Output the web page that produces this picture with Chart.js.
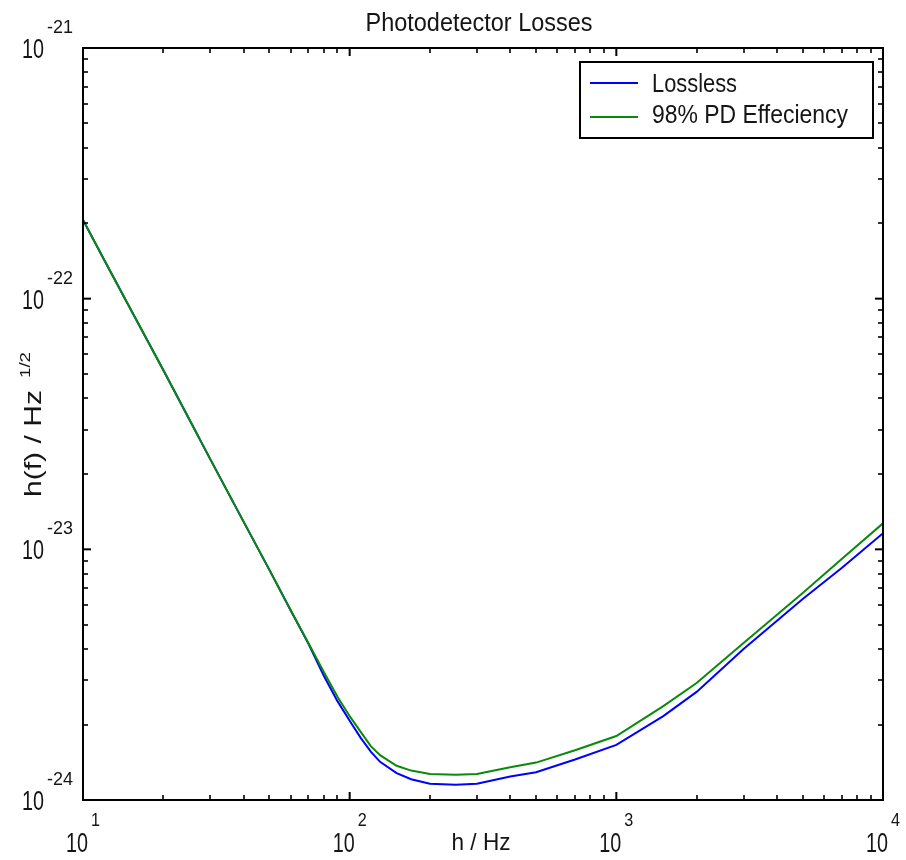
<!DOCTYPE html>
<html>
<head>
<meta charset="utf-8">
<script src="https://cdn.jsdelivr.net/npm/chart.js@4.4.1/dist/chart.umd.min.js"></script>
<style>
  html, body { margin: 0; padding: 0; background: #ffffff; }
  #wrap { width: 906px; height: 860px; position: relative; }
</style>
</head>
<body>
<div id="wrap"><canvas id="c"></canvas></div>
<script>
// ---- Data ----
const chartTitle = "Photodetector Losses";
const xAxisTitle = "h / Hz";
const yAxisTitleMain = "h(f) / Hz";
const yAxisTitleExp = "1/2";
const seriesNames = ["Lossless", "98% PD Effeciency"];

const freqHz = [10, 12, 15, 20, 25, 30, 40, 50, 60, 70, 80, 90, 100, 110, 120, 130, 150, 170, 200, 250, 300, 400, 500, 700, 1000, 1500, 2000, 3000, 5000, 7000, 10000];

const lossless = [2.06e-22, 1.43e-22, 9.18e-23, 5.19e-23, 3.31e-23, 2.29e-23, 1.29e-23, 8.28e-24, 5.73e-24, 4.21e-24, 3.13e-24, 2.48e-24, 2.07e-24, 1.77e-24, 1.56e-24, 1.42e-24, 1.28e-24, 1.21e-24, 1.16e-24, 1.15e-24, 1.16e-24, 1.24e-24, 1.29e-24, 1.45e-24, 1.66e-24, 2.16e-24, 2.70e-24, 4.00e-24, 6.34e-24, 8.43e-24, 1.16e-23];

const pd98 = [2.06e-22, 1.43e-22, 9.18e-23, 5.19e-23, 3.31e-23, 2.29e-23, 1.29e-23, 8.28e-24, 5.73e-24, 4.23e-24, 3.24e-24, 2.58e-24, 2.16e-24, 1.87e-24, 1.64e-24, 1.51e-24, 1.37e-24, 1.31e-24, 1.27e-24, 1.26e-24, 1.27e-24, 1.35e-24, 1.41e-24, 1.58e-24, 1.80e-24, 2.37e-24, 2.93e-24, 4.23e-24, 6.70e-24, 9.16e-24, 1.27e-23];

const xTickValues = [10, 100, 1000, 10000];
const xTickExponents = ["1", "2", "3", "4"];
const yTickValues = [1e-24, 1e-23, 1e-22, 1e-21];
const yTickExponents = ["-24", "-23", "-22", "-21"];
const minorMultipliers = [2, 3, 4, 5, 6, 7, 8, 9];

const colors = { lossless: "#0000ff", pd98: "#0a8a0a", text: "#151515", frame: "#000000" };
const FONT = '"Liberation Sans", Arial, Helvetica, sans-serif';

function fitText(ctx, s, x, y, size, width, align) {
  ctx.font = size + "px " + FONT;
  const m = ctx.measureText(s).width;
  const sx = width ? width / m : 1;
  ctx.save();
  ctx.translate(x, y);
  ctx.scale(sx, 1);
  ctx.textAlign = align || "left";
  ctx.textBaseline = "alphabetic";
  ctx.fillText(s, 0, 0);
  ctx.restore();
  return (width || m);
}

function seg(ctx, x1, y1, x2, y2) {
  ctx.beginPath(); ctx.moveTo(x1, y1); ctx.lineTo(x2, y2); ctx.stroke();
}

const decorPlugin = {
  id: "decor",
  afterDatasetsDraw(chart) {
    const ctx = chart.ctx;
    const a = chart.chartArea;
    const xs = chart.scales.x, ys = chart.scales.y;
    ctx.save();
    ctx.strokeStyle = colors.frame;
    ctx.fillStyle = colors.text;

    // frame
    ctx.lineWidth = 2;
    ctx.strokeRect(a.left, a.top, a.right - a.left, a.bottom - a.top);

    // x ticks (bottom + top, inward)
    xTickValues.forEach((v, i) => {
      const px = xs.getPixelForValue(v);
      ctx.lineWidth = 2;
      seg(ctx, px, a.bottom, px, a.bottom - 8);
      seg(ctx, px, a.top, px, a.top + 8);
      if (i < xTickValues.length - 1) {
        minorMultipliers.forEach(m => {
          const p = Math.round(xs.getPixelForValue(v * m));
          ctx.lineWidth = 1.6;
          seg(ctx, p, a.bottom, p, a.bottom - 5);
          seg(ctx, p, a.top, p, a.top + 5);
        });
      }
    });
    // y ticks (left + right, inward)
    yTickValues.forEach((v, i) => {
      const py = ys.getPixelForValue(v);
      ctx.lineWidth = 2;
      seg(ctx, a.left, py, a.left + 8, py);
      seg(ctx, a.right, py, a.right - 8, py);
      if (i < yTickValues.length - 1) {
        minorMultipliers.forEach(m => {
          const p = Math.round(ys.getPixelForValue(v * m));
          ctx.lineWidth = 1.6;
          seg(ctx, a.left, p, a.left + 5, p);
          seg(ctx, a.right, p, a.right - 5, p);
        });
      }
    });

    // y tick labels: "10" + raised exponent
    yTickValues.forEach((v, i) => {
      const py = ys.getPixelForValue(v);
      fitText(ctx, "10", a.left - 39, py + 10, 28, 22, "right");
      fitText(ctx, yTickExponents[i], a.left - 36, py - 15, 18, 26, "left");
    });
    // x tick labels
    xTickValues.forEach((v, i) => {
      const px = xs.getPixelForValue(v);
      const w10 = 22, gap = 3, wE = 9;
      const start = px - (w10 + gap + wE) / 2;
      fitText(ctx, "10", start, 852, 28, w10, "left");
      fitText(ctx, xTickExponents[i], start + w10 + gap, 826, 18, wE, "left");
    });

    // title
    fitText(ctx, chartTitle, (a.left + a.right) / 2 - 4, 31, 25, 227, "center");
    // x axis title
    fitText(ctx, xAxisTitle, 481, 850, 24, 59, "center");
    // y axis title (rotated)
    ctx.save();
    ctx.translate(41, 497);
    ctx.rotate(-Math.PI / 2);
    fitText(ctx, yAxisTitleMain, 0, 0, 24, 107, "left");
    fitText(ctx, yAxisTitleExp, 119, -11, 15, 26, "left");
    ctx.restore();

    // legend
    ctx.fillStyle = "#ffffff";
    ctx.fillRect(580, 62, 293, 76);
    ctx.lineWidth = 2;
    ctx.strokeStyle = "#000000";
    ctx.strokeRect(580, 62, 293, 76);
    ctx.lineWidth = 2;
    ctx.strokeStyle = colors.lossless;
    seg(ctx, 590, 83, 638, 83);
    ctx.strokeStyle = colors.pd98;
    seg(ctx, 590, 117, 638, 117);
    ctx.fillStyle = colors.text;
    fitText(ctx, seriesNames[0], 652, 92, 25, 85, "left");
    fitText(ctx, seriesNames[1], 652, 123, 25, 196, "left");

    ctx.restore();
  }
};

const toPoints = arr => freqHz.map((f, i) => ({ x: f, y: arr[i] }));

new Chart(document.getElementById("c"), {
  type: "line",
  data: {
    datasets: [
      { label: seriesNames[0], data: toPoints(lossless), borderColor: colors.lossless, borderWidth: 2, pointRadius: 0, tension: 0, fill: false, order: 1 },
      { label: seriesNames[1], data: toPoints(pd98), borderColor: colors.pd98, borderWidth: 2, pointRadius: 0, tension: 0, fill: false, order: 0 }
    ]
  },
  options: {
    responsive: true,
    maintainAspectRatio: false,
    animation: false,
    parsing: true,
    layout: { padding: { left: 83, right: 23, top: 48, bottom: 60 } },
    plugins: { legend: { display: false }, title: { display: false }, tooltip: { enabled: false } },
    events: [],
    scales: {
      x: { type: "logarithmic", min: 10, max: 10000, display: false },
      y: { type: "logarithmic", min: 1e-24, max: 1e-21, display: false }
    }
  },
  plugins: [decorPlugin]
});
</script>
</body>
</html>
